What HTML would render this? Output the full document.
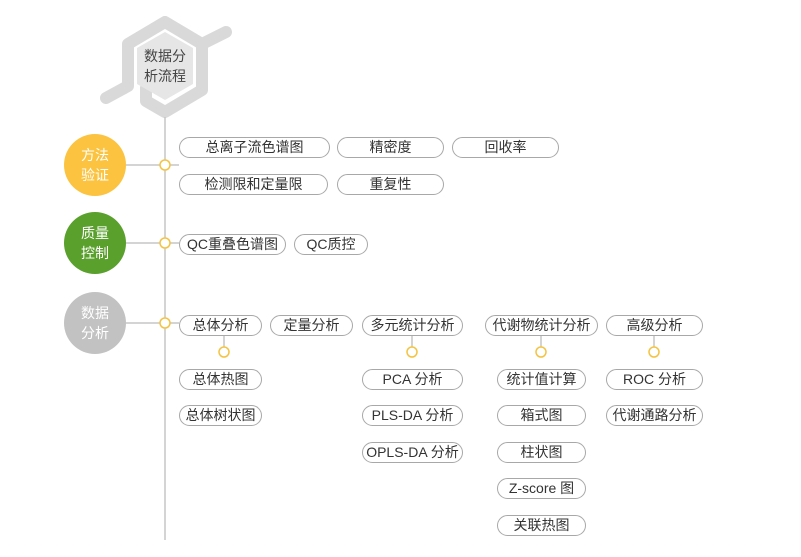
<!DOCTYPE html>
<html><head><meta charset="utf-8"><style>
body{margin:0;width:801px;height:557px;background:#fff;position:relative;overflow:hidden;font-family:"Liberation Sans","Noto Sans CJK SC",sans-serif;}
.p{position:absolute;box-sizing:border-box;height:21px;border:1px solid #a8a8a8;border-radius:11px;font-size:14px;line-height:19px;text-align:center;color:#333;background:#fff;white-space:nowrap}
.c{position:absolute;border-radius:50%;color:#fff;font-size:14px;text-align:center;display:flex;align-items:center;justify-content:center;line-height:20px}
</style></head><body>
<svg width="801" height="557" style="position:absolute;left:0;top:0">
<g stroke="#d9d9d9" stroke-width="12" fill="none" stroke-linecap="round" stroke-linejoin="round">
<polyline points="106,98 128,86 128,44 165,22 202,44 226,32"/>
<polyline points="202,44 202,90 165,112 146,101 146,88"/>
</g>
<polygon points="165,32 193,48 193,84 165,100 137,84 137,48" fill="#e6e6e6"/>
<line x1="165" y1="117" x2="165" y2="540" stroke="#c6c6c6" stroke-width="1.5"/>
<g stroke="#c6c6c6" stroke-width="1.5">
<line x1="110" y1="165" x2="160" y2="165"/><line x1="110" y1="243" x2="160" y2="243"/><line x1="110" y1="323" x2="160" y2="323"/>
<line x1="170" y1="165" x2="179" y2="165"/><line x1="170" y1="243" x2="179" y2="243"/><line x1="170" y1="323" x2="179" y2="323"/>
<line x1="224" y1="335" x2="224" y2="347"/><line x1="412" y1="335" x2="412" y2="347"/><line x1="541" y1="335" x2="541" y2="347"/><line x1="654" y1="335" x2="654" y2="347"/>
</g>
<g fill="#fff" stroke="#f5c342" stroke-width="1.5">
<circle cx="165" cy="165" r="5"/><circle cx="165" cy="243" r="5"/><circle cx="165" cy="323" r="5"/>
<circle cx="224" cy="352" r="5"/><circle cx="412" cy="352" r="5"/><circle cx="541" cy="352" r="5"/><circle cx="654" cy="352" r="5"/>
</g>
</svg>
<div style="position:absolute;left:135px;top:46px;width:60px;text-align:center;font-size:14px;line-height:20px;color:#444">数据分<br>析流程</div>
<div class="c" style="left:64px;top:134px;width:62px;height:62px;background:#fbc33f">方法<br>验证</div>
<div class="c" style="left:64px;top:212px;width:62px;height:62px;background:#5aa02c">质量<br>控制</div>
<div class="c" style="left:64px;top:292px;width:62px;height:62px;background:#c2c2c2">数据<br>分析</div>

<div class="p" style="left:179px;top:137px;width:151px">总离子流色谱图</div>
<div class="p" style="left:337px;top:137px;width:107px">精密度</div>
<div class="p" style="left:452px;top:137px;width:107px">回收率</div>
<div class="p" style="left:179px;top:174px;width:149px">检测限和定量限</div>
<div class="p" style="left:337px;top:174px;width:107px">重复性</div>
<div class="p" style="left:179px;top:234px;width:107px">QC重叠色谱图</div>
<div class="p" style="left:294px;top:234px;width:74px">QC质控</div>

<div class="p" style="left:179px;top:315px;width:83px">总体分析</div>
<div class="p" style="left:270px;top:315px;width:83px">定量分析</div>
<div class="p" style="left:362px;top:315px;width:101px">多元统计分析</div>
<div class="p" style="left:485px;top:315px;width:113px">代谢物统计分析</div>
<div class="p" style="left:606px;top:315px;width:97px">高级分析</div>

<div class="p" style="left:179px;top:369px;width:83px">总体热图</div>
<div class="p" style="left:179px;top:405px;width:83px">总体树状图</div>
<div class="p" style="left:362px;top:369px;width:101px">PCA 分析</div>
<div class="p" style="left:362px;top:405px;width:101px">PLS-DA 分析</div>
<div class="p" style="left:362px;top:442px;width:101px">OPLS-DA 分析</div>
<div class="p" style="left:497px;top:369px;width:89px">统计值计算</div>
<div class="p" style="left:497px;top:405px;width:89px">箱式图</div>
<div class="p" style="left:497px;top:442px;width:89px">柱状图</div>
<div class="p" style="left:497px;top:478px;width:89px">Z-score 图</div>
<div class="p" style="left:497px;top:515px;width:89px">关联热图</div>
<div class="p" style="left:606px;top:369px;width:97px">ROC 分析</div>
<div class="p" style="left:606px;top:405px;width:97px">代谢通路分析</div>
</body></html>
